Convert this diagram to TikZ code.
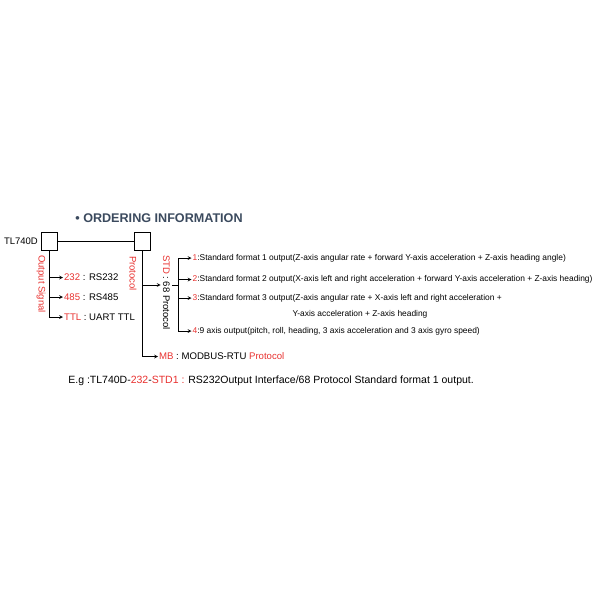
\documentclass[tikz,border=0pt]{standalone}
\usepackage{fontspec}
\setmainfont{Liberation Sans}
\usepackage{xcolor}
\usetikzlibrary{arrows, positioning}
\definecolor{ordred}{HTML}{E8312F}
\definecolor{titleblue}{HTML}{3B4A5E}
\tikzstyle{codebox} = [rectangle, draw=black, minimum width=16pt, minimum height=18pt, inner sep=0pt]
\tikzstyle{arrow} = [->,>=stealth]
\tikzstyle{choice} = [anchor=west, inner sep=0.8pt, font=\fontsize{9.6}{11}\selectfont]
\tikzstyle{detail} = [anchor=west, inner sep=0.8pt, font=\fontsize{8.4}{10}\selectfont]
\tikzstyle{sidelabel} = [rotate=-90, inner sep=2pt, font=\fontsize{9.5}{11}\selectfont]

\begin{document}
\begin{tikzpicture}[x=1pt, y=-1pt, line width=0.7pt]
    \useasboundingbox (0,0) rectangle (600,600);
    \node (title) [anchor=west, inner sep=0pt, text=titleblue, font=\bfseries\fontsize{12.6}{14}\selectfont] at (75,218) {\textbullet\ ORDERING INFORMATION};

    % code boxes
    \node (sigbox) [codebox] at (49.5,241) {};
    \node (protobox) [codebox] at (142.5,241) {};
    \node (model) [anchor=east, inner sep=3pt, font=\fontsize{9.5}{11}\selectfont] at (sigbox.west) {TL740D};
    \draw (sigbox) -- (protobox);

    % output signal
    \node (siglabel) [sidelabel, text=ordred] at (41,284) {Output Signal};
    \node (rs232) [choice] at (63,277.5) {\textcolor{ordred}{232} : RS232};
    \node (rs485) [choice] at (63,297) {\textcolor{ordred}{485} : RS485};
    \node (ttl) [choice] at (63,317) {\textcolor{ordred}{TTL} : UART TTL};
    \draw [arrow] (sigbox.south |- rs232) -- (rs232);
    \draw [arrow] (sigbox.south |- rs485) -- (rs485);
    \draw [arrow] (sigbox.south) |- (ttl);

    % protocol
    \node (protolabel) [sidelabel, text=ordred] at (133,273.5) {Protocol};
    \node (std) [sidelabel] at (166.5,292.5) {\textcolor{ordred}{STD} : 68 Protocol};
    \node (mb) [choice] at (158,356.5) {\textcolor{ordred}{MB} : MODBUS-RTU \textcolor{ordred}{Protocol}};
    \coordinate (stdrow) at (0,285);
    \coordinate (brk) at (178,285);
    \draw [arrow] (protobox.south |- stdrow) -- (std.south |- stdrow);
    \draw [arrow] (protobox.south) |- (mb);
    \draw (std.north |- brk) -- (brk);

    \node (fmt1) [detail] at (191.5,258) {\textcolor{ordred}{1}:Standard format 1 output(Z-axis angular rate + forward Y-axis acceleration + Z-axis heading angle)};
    \node (fmt2) [detail] at (191.5,279.5) {\textcolor{ordred}{2}:Standard format 2 output(X-axis left and right acceleration + forward Y-axis acceleration + Z-axis heading)};
    \node (fmt3) [detail] at (191.5,298) {\textcolor{ordred}{3}:Standard format 3 output(Z-axis angular rate + X-axis left and right acceleration +};
    \node (fmt3b) [detail, anchor=center] at (360,314) {Y-axis acceleration + Z-axis heading};
    \node (fmt4) [detail] at (191.5,331) {\textcolor{ordred}{4}:9 axis output(pitch, roll, heading, 3 axis acceleration and 3 axis gyro speed)};
    \draw [arrow] (brk) |- (fmt1);
    \draw [arrow] (brk) |- (fmt2);
    \draw [arrow] (brk) |- (fmt3);
    \draw [arrow] (brk) |- (fmt4);

    % example
    \node (example) [anchor=west, inner sep=0pt, font=\fontsize{10.5}{12}\selectfont] at (68,381) {E.g :TL740D-\textcolor{ordred}{232}-\textcolor{ordred}{STD1 :} RS232Output Interface/68 Protocol Standard format 1 output.};
\end{tikzpicture}
\end{document}
